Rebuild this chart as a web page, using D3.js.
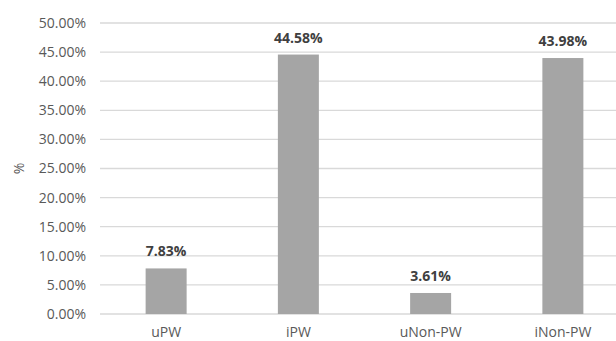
<!DOCTYPE html>
<html>
<head>
<meta charset="utf-8">
<script src="https://cdn.jsdelivr.net/npm/d3@7/dist/d3.min.js"></script>
<style>
  html, body { margin: 0; padding: 0; background: #fff; }
  svg { display: block; }
  text { font-family: "Open Sans", "Noto Sans", sans-serif; }
</style>
</head>
<body>
<svg id="chart" width="616" height="341"></svg>
<script>
// Share of each group, in percent
const categories = ["uPW", "iPW", "uNon-PW", "iNon-PW"];
const values = [7.83, 44.58, 3.61, 43.98];
const yTicks = [0, 5, 10, 15, 20, 25, 30, 35, 40, 45, 50];

const svg = d3.select("#chart");
const plotLeft = 100, plotRight = 629, plotTop = 23, plotBottom = 314;

const x = d3.scaleBand().domain(categories).range([plotLeft, plotRight]).paddingInner(0.69).paddingOuter(0.345);
const y = d3.scaleLinear().domain([0, 50]).range([plotBottom, plotTop]);

// Horizontal gridlines
svg.append("g")
  .selectAll("line")
  .data(yTicks)
  .join("line")
  .attr("x1", plotLeft).attr("x2", 616)
  .attr("y1", d => y(d)).attr("y2", d => y(d))
  .attr("stroke", "#d9d9d9").attr("stroke-width", 1.3);

// Y axis tick labels
const yAxis = d3.axisLeft(y).tickValues(yTicks).tickSize(0).tickPadding(0)
  .tickFormat(d => d.toFixed(2) + "%");
const ya = svg.append("g").attr("transform", `translate(86,0)`).call(yAxis);
ya.select(".domain").remove();
ya.selectAll("text").attr("fill", "#595959").style("font-size", "14px")
  .style("font-family", "'Open Sans', sans-serif");

// Axis title
svg.append("text")
  .attr("transform", `translate(24,${(plotTop + plotBottom) / 2}) rotate(-90)`)
  .attr("text-anchor", "middle")
  .attr("fill", "#595959").style("font-size", "14px")
  .text("%");

// Bars
svg.append("g")
  .selectAll("rect")
  .data(values)
  .join("rect")
  .attr("x", (d, i) => x(categories[i]))
  .attr("width", x.bandwidth())
  .attr("y", d => y(d))
  .attr("height", d => y(0) - y(d))
  .attr("fill", "#a5a5a5");

// Value labels
svg.append("g")
  .selectAll("text")
  .data(values)
  .join("text")
  .attr("x", (d, i) => x(categories[i]) + x.bandwidth() / 2)
  .attr("y", d => y(d) - 12)
  .attr("text-anchor", "middle")
  .attr("fill", "#404040")
  .style("font-size", "14px").style("font-weight", "bold")
  .text(d => d.toFixed(2) + "%");

// Category labels
const xAxis = d3.axisBottom(x).tickSize(0).tickPadding(0);
const xa = svg.append("g").attr("transform", `translate(0,${plotBottom + 13})`).call(xAxis);
xa.select(".domain").remove();
xa.selectAll("text").attr("fill", "#595959").style("font-size", "14px")
  .style("font-family", "'Open Sans', sans-serif").attr("dy", "0.71em");
</script>
</body>
</html>
